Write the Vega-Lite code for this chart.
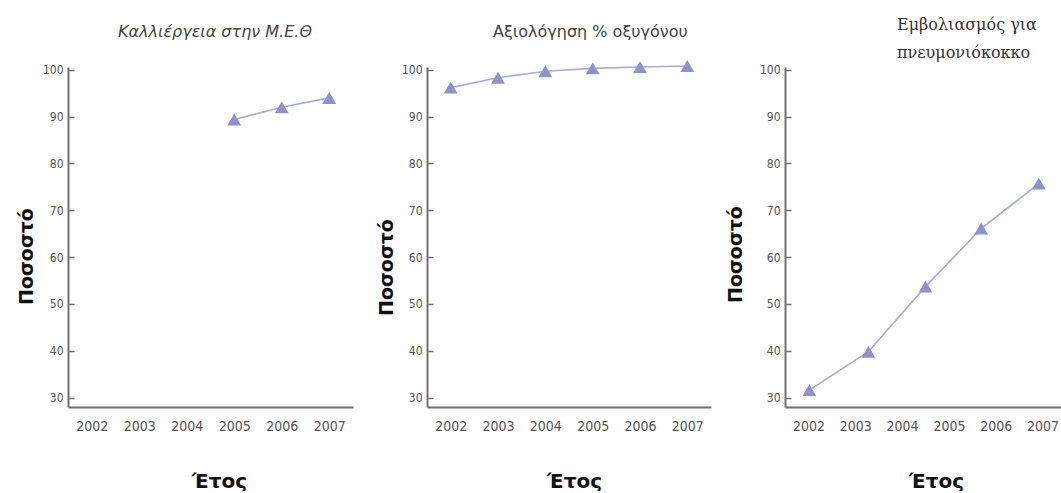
{
  "$schema": "https://vega.github.io/schema/vega-lite/v6.json",
  "padding": {"left": 17, "top": 16, "right": 0, "bottom": 0},
  "background": "white",
  "datasets": {
    "culture": [
      {"year": 2005, "value": 89.4},
      {"year": 2006, "value": 92.0},
      {"year": 2007, "value": 94.0}
    ],
    "oxygen": [
      {"year": 2002, "value": 96.2},
      {"year": 2003, "value": 98.3},
      {"year": 2004, "value": 99.7},
      {"year": 2005, "value": 100.3},
      {"year": 2006, "value": 100.6},
      {"year": 2007, "value": 100.8}
    ],
    "vaccine": [
      {"year": 2002.02, "value": 31.6},
      {"year": 2003.28, "value": 39.8},
      {"year": 2004.5, "value": 53.7},
      {"year": 2005.69, "value": 66.1},
      {"year": 2006.92, "value": 75.7}
    ]
  },
  "hconcat": [
    {
      "width": 285,
      "height": 340,
      "data": {"name": "culture"},
      "title": {"text": "Καλλιέργεια στην Μ.Ε.Θ", "anchor": "start", "frame": "group", "dx": 50, "offset": 24, "font": "DejaVu Sans", "fontStyle": "italic", "fontWeight": "normal", "fontSize": 16, "color": "#444444"},
      "encoding": {
        "x": {"field": "year", "type": "quantitative", "scale": {"domain": [2001.5, 2007.5], "nice": false, "zero": false},
              "axis": {"title": "Έτος", "values": [2002, 2003, 2004, 2005, 2006, 2007], "format": "d", "titleX": 151, "titleY": 80}},
        "y": {"field": "value", "type": "quantitative", "scale": {"domain": [28, 100.6], "nice": false, "zero": false},
              "axis": {"title": "Ποσοστό", "values": [30, 40, 50, 60, 70, 80, 90, 100], "titleX": -36, "titleY": 189}}
      },
      "layer": [
        {"mark": {"type": "line", "color": "#A9ABDB", "strokeWidth": 1.6}},
        {"mark": {"type": "point", "shape": "triangle-up", "filled": true, "size": 190, "color": "#8E91CF", "opacity": 1}}
      ]
    },
    {
      "width": 284,
      "height": 340,
      "data": {"name": "oxygen"},
      "title": {"text": "Αξιολόγηση % οξυγόνου", "anchor": "start", "frame": "group", "dx": 66, "offset": 20, "font": "DejaVu Sans", "fontWeight": "normal", "fontSize": 16, "color": "#444444"},
      "encoding": {
        "x": {"field": "year", "type": "quantitative", "scale": {"domain": [2001.5, 2007.5], "nice": false, "zero": false},
              "axis": {"title": "Έτος", "values": [2002, 2003, 2004, 2005, 2006, 2007], "format": "d", "titleX": 147, "titleY": 80}},
        "y": {"field": "value", "type": "quantitative", "scale": {"domain": [28, 100.6], "nice": false, "zero": false},
              "axis": {"title": "Ποσοστό", "values": [30, 40, 50, 60, 70, 80, 90, 100], "titleX": -35, "titleY": 200}}
      },
      "layer": [
        {"mark": {"type": "line", "color": "#A9ABDB", "strokeWidth": 1.6}},
        {"mark": {"type": "point", "shape": "triangle-up", "filled": true, "size": 190, "color": "#8E91CF", "opacity": 1}}
      ]
    },
    {
      "width": 281,
      "height": 340,
      "data": {"name": "vaccine"},
      "title": {"text": ["Εμβολιασμός για", "πνευμονιόκοκκο"], "anchor": "start", "frame": "group", "dx": 112, "offset": 3, "lineHeight": 28, "font": "DejaVu Serif", "fontWeight": "normal", "fontSize": 16, "color": "#333333"},
      "encoding": {
        "x": {"field": "year", "type": "quantitative", "scale": {"domain": [2001.5, 2007.5], "nice": false, "zero": false},
              "axis": {"title": "Έτος", "values": [2002, 2003, 2004, 2005, 2006, 2007], "format": "d", "titleX": 151, "titleY": 80}},
        "y": {"field": "value", "type": "quantitative", "scale": {"domain": [28, 100.6], "nice": false, "zero": false},
              "axis": {"title": "Ποσοστό", "values": [30, 40, 50, 60, 70, 80, 90, 100], "titleX": -44, "titleY": 187}}
      },
      "layer": [
        {"mark": {"type": "line", "color": "#A9ABDB", "strokeWidth": 1.6}},
        {"mark": {"type": "point", "shape": "triangle-up", "filled": true, "size": 190, "color": "#8E91CF", "opacity": 1}}
      ]
    }
  ],
  "spacing": 74,
  "bounds": "flush",
  "config": {
    "view": {"stroke": null},
    "axis": {
      "domainColor": "#707070",
      "domainWidth": 2,
      "tickColor": "#707070",
      "grid": false,
      "labelColor": "#555555",
      "labelFont": "Liberation Sans Narrow, DejaVu Sans Condensed, Liberation Sans",
      "titleFont": "DejaVu Sans",
      "titleFontWeight": "bold",
      "titleColor": "#111111"
    },
    "axisY": {
      "tickSize": -6,
      "tickWidth": 1.5,
      "labelPadding": 11,
      "labelFontSize": 12,
      "titleFontSize": 19,
      "titleAngle": -90,
      "titleAlign": "center",
      "titleBaseline": "alphabetic"
    },
    "axisX": {
      "ticks": false,
      "labelPadding": 12,
      "labelFontSize": 14,
      "titleFontSize": 20,
      "titleAlign": "center",
      "titleBaseline": "alphabetic"
    }
  }
}
